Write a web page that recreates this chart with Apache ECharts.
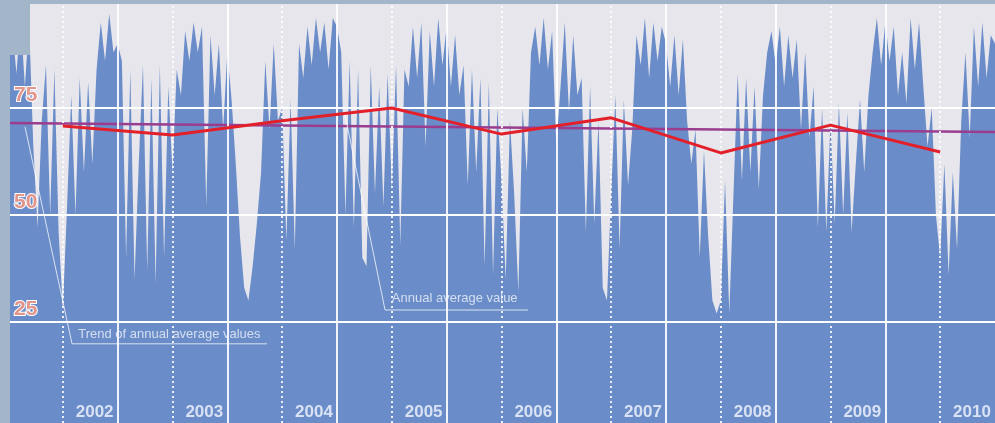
<!DOCTYPE html>
<html>
<head>
<meta charset="utf-8">
<script src="https://cdn.jsdelivr.net/npm/echarts@6/dist/echarts.min.js"></script>
<style>
  html, body { margin: 0; padding: 0; background: #e6e6ec; }
  #chart { width: 995px; height: 423px; }
</style>
</head>
<body>
<div id="chart"></div>
<script>
// sample spacing: one reading every two weeks, starting mid 2001
const startYear = 2001.5
const step = 1 / 26

// readings per half year (13 each), Jul 2001 .. Jun 2010
const values = [
  90, 94, 83, 96, 80, 95, 66, 47, 72, 85, 50, 84, 46,
  28, 52, 78, 50, 82, 60, 81, 62, 84, 95, 86, 97, 88,
  90, 86, 40, 84, 35, 62, 85, 37, 82, 34, 85, 40, 80,
  60, 84, 78, 93, 86, 95, 88, 94, 52, 92, 78, 90, 70,
  88, 77, 62, 45, 33, 30, 38, 48, 60, 86, 70, 90, 72,
  75, 44, 77, 42, 90, 82, 94, 85, 96, 88, 95, 84, 96,
  94, 88, 50, 86, 47, 84, 40, 38, 85, 55, 80, 52, 83,
  56, 85, 43, 84, 80, 94, 82, 95, 66, 93, 80, 96, 85,
  94, 80, 92, 78, 85, 57, 84, 60, 82, 38, 81, 36, 75,
  58, 35, 72, 55, 32, 75, 60, 88, 94, 85, 96, 84, 93,
  66, 80, 95, 74, 92, 78, 82, 46, 80, 48, 72, 33, 30,
  55, 78, 42, 77, 57, 70, 92, 85, 96, 82, 95, 86, 94,
  90, 80, 92, 78, 91, 72, 62, 70, 40, 65, 45, 30, 27,
  30, 58, 27, 55, 83, 58, 82, 60, 80, 56, 78, 88, 93,
  85, 94, 80, 92, 82, 91, 70, 88, 68, 80, 47, 75, 46,
  72, 48, 76, 50, 74, 46, 62, 77, 60, 78, 88, 96, 85,
  95, 86, 94, 78, 88, 76, 96, 84, 95, 80, 66, 75, 50,
  40, 62, 36, 60, 42, 72, 88, 68, 94, 80, 95, 82, 92,
  90
]

const yTicks = [25, 50, 75]
const years = [2002, 2003, 2004, 2005, 2006, 2007, 2008, 2009, 2010]
// annual averages, plotted at the start of each year
const annualAvg = [70.8, 68.7, 72.0, 75.0, 68.9, 72.7, 64.5, 71.0, 64.7]
// trend of the annual averages (start / end of the chart)
const trendX = [2001.5, 2010.5]
const trendY = [71.5, 69.4]

// annotation leaders [year, value]
const trendNote = [[2001.655, 70.6], [2002.084, 19.9], [2003.862, 19.9]]
const avgNote = [[2004.573, 73.4], [2004.938, 27.8], [2006.242, 27.8]]
const notes = [
  { text: 'Trend of annual average values', at: [2002.14, 22.0] },
  { text: 'Annual average value', at: [2005.0, 30.6] }
]

const frameColor = '#a3b5c9'
const font = 'Liberation Sans, Arial, sans-serif'

const chart = echarts.init(document.getElementById('chart'))

const areaData = values.map((v, i) => [startYear + i * step, v])

chart.setOption({
  backgroundColor: '#e6e6ec',
  animation: false,
  grid: { left: 8, right: 0, top: 1, bottom: 0 },
  xAxis: {
    type: 'value',
    min: 2001.5,
    max: 2010.5,
    show: false
  },
  // zero is a few pixels below the picture, so the axis starts at 1.4
  yAxis: {
    type: 'value',
    min: 1.4,
    max: 100,
    show: false
  },
  series: [
    {
      type: 'line',
      data: areaData,
      symbol: 'none',
      z: 2,
      lineStyle: { width: 0 },
      areaStyle: { color: '#6a8cc8', opacity: 1 }
    },
    {
      // trend line + grid lines
      type: 'line',
      data: trendX.map((x, i) => [x, trendY[i]]),
      symbol: 'none',
      z: 4,
      lineStyle: { color: '#9a3d8e', width: 2.5 },
      markLine: {
        silent: true,
        symbol: 'none',
        label: { show: false },
        data: [
          ...years.map(y => ({
            xAxis: y,
            lineStyle: { color: 'rgba(255,255,255,0.85)', width: 2, type: [2, 3] }
          })),
          ...years.slice(0, -1).map(y => ({
            xAxis: y + 0.5,
            lineStyle: { color: 'rgba(255,255,255,0.9)', width: 2, type: 'solid' }
          })),
          ...yTicks.map(v => ({
            yAxis: v,
            lineStyle: { color: '#ffffff', width: 2, type: 'solid' },
            label: {
              show: true,
              position: 'insideStartTop',
              distance: [6, 2],
              formatter: String(v),
              color: '#e2968b',
              fontSize: 21,
              fontWeight: 'bold',
              fontFamily: font,
              textBorderColor: '#ffffff',
              textBorderWidth: 2
            }
          }))
        ]
      }
    },
    {
      type: 'line',
      data: years.map((y, i) => [y, annualAvg[i]]),
      symbol: 'none',
      z: 5,
      lineStyle: { color: '#e3202a', width: 3 }
    },
    // annotation leaders
    {
      type: 'line',
      data: trendNote,
      symbol: 'none',
      z: 6,
      lineStyle: { color: 'rgba(255,255,255,0.75)', width: 1 }
    },
    {
      type: 'line',
      data: avgNote,
      symbol: 'none',
      z: 6,
      lineStyle: { color: 'rgba(255,255,255,0.75)', width: 1 }
    },
    {
      type: 'scatter',
      symbolSize: 0,
      z: 7,
      data: notes.map(n => ({ value: n.at, name: n.text })),
      label: {
        show: true,
        position: 'right',
        distance: 0,
        formatter: p => p.name,
        color: '#eef2fa',
        fontSize: 13,
        fontFamily: font
      }
    },
    // year labels
    {
      type: 'scatter',
      symbolSize: 0,
      z: 7,
      data: years.map(y => ({ value: [y + 0.29, 4.0], name: String(y) })),
      label: {
        show: true,
        position: 'inside',
        formatter: p => p.name,
        color: '#f4f7ff',
        fontSize: 17,
        fontWeight: 'bold',
        fontFamily: font
      }
    }
  ],
  // frame strips
  graphic: [
    { type: 'rect', z: 100, shape: { x: 0, y: 0, width: 995, height: 4 }, style: { fill: frameColor } },
    { type: 'rect', z: 100, shape: { x: 0, y: 0, width: 10, height: 423 }, style: { fill: frameColor } },
    { type: 'rect', z: 100, shape: { x: 0, y: 0, width: 30, height: 55 }, style: { fill: frameColor } }
  ]
})
</script>
</body>
</html>
